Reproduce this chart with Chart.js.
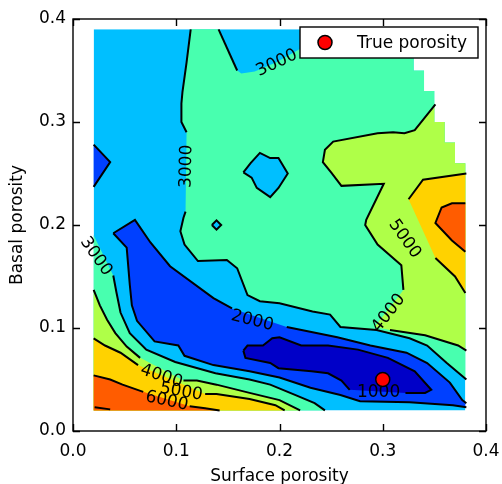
<!DOCTYPE html>
<html>
<head>
<meta charset="utf-8">
<script src="https://cdn.jsdelivr.net/npm/chart.js@4.4.1/dist/chart.umd.min.js"></script>
<style>
  html, body { margin: 0; padding: 0; background: #fff; }
  #box { width: 502px; height: 484px; }
</style>
</head>
<body>
<div id="box"><canvas id="contourChart" width="502" height="484"></canvas></div>
<script>
// ticks
const xTicks = [0, 0.1, 0.2, 0.3, 0.4];
const yTicks = [0, 0.1, 0.2, 0.3, 0.4];

// filled bands 0-1000 ... 6000-7000 (jet)
const levelColors = ['#0000C8', '#0040FF', '#00BFFF', '#48FFAF', '#AFFF48', '#FFD200', '#FF5C00'];

// outline of the valid grid (top right corner is masked)
const domain = [[0.02, 0.02], [0.38, 0.02], [0.38, 0.26], [0.37, 0.26], [0.37, 0.28], [0.36, 0.28],
  [0.36, 0.30], [0.35, 0.30], [0.35, 0.33], [0.34, 0.33], [0.34, 0.35], [0.33, 0.35], [0.33, 0.39], [0.02, 0.39]];

// contour lines (surface porosity, basal porosity), split where labels sit
const c1000Up = [[0.165, 0.078], [0.169, 0.083], [0.184, 0.083], [0.193, 0.090], [0.200, 0.091], [0.221, 0.083],
  [0.247, 0.083], [0.276, 0.079], [0.305, 0.071], [0.331, 0.058], [0.347, 0.040], [0.341, 0.037], [0.322, 0.037]];
const c1000Low = [[0.268, 0.040], [0.260, 0.049], [0.247, 0.056], [0.231, 0.058], [0.199, 0.061], [0.191, 0.066],
  [0.167, 0.071], [0.165, 0.078]];

const c2000Up1 = [[0.039, 0.192], [0.060, 0.205], [0.075, 0.183], [0.094, 0.160], [0.136, 0.129], [0.154, 0.119]];
const c2000Up2 = [[0.207, 0.101], [0.256, 0.091], [0.288, 0.083], [0.323, 0.076], [0.343, 0.066], [0.365, 0.047],
  [0.377, 0.030], [0.381, 0.027]];
const c2000Low = [[0.039, 0.192], [0.052, 0.178], [0.055, 0.142], [0.057, 0.122], [0.062, 0.107], [0.079, 0.087],
  [0.102, 0.083], [0.108, 0.073], [0.136, 0.064], [0.171, 0.058], [0.200, 0.052], [0.230, 0.042], [0.259, 0.035],
  [0.278, 0.029], [0.326, 0.028], [0.368, 0.025], [0.381, 0.023]];
const blobLine = [[0.020, 0.278], [0.036, 0.261], [0.020, 0.237]];

const c3000Top1 = [[0.114, 0.390], [0.110, 0.358], [0.106, 0.329], [0.105, 0.318], [0.105, 0.300], [0.110, 0.290]];
const c3000Top2 = [[0.109, 0.213], [0.107, 0.207], [0.104, 0.194], [0.108, 0.181], [0.121, 0.165], [0.149, 0.166],
  [0.159, 0.158], [0.169, 0.132], [0.181, 0.126], [0.200, 0.124], [0.232, 0.116], [0.249, 0.113], [0.259, 0.101],
  [0.294, 0.098], [0.326, 0.090], [0.343, 0.083], [0.362, 0.066], [0.381, 0.050]];
const c3000Notch = [[0.141, 0.390], [0.159, 0.350]];
const c3000NotchHidden = [[0.163, 0.347], [0.176, 0.349], [0.197, 0.358], [0.218, 0.370], [0.230, 0.378], [0.244, 0.390]];
const c3000Low = [[0.039, 0.151], [0.042, 0.135], [0.046, 0.115], [0.055, 0.095], [0.071, 0.079], [0.099, 0.067],
  [0.138, 0.056], [0.171, 0.050], [0.191, 0.045], [0.215, 0.035], [0.234, 0.027], [0.244, 0.020]];
const island = [[0.165, 0.251], [0.172, 0.260], [0.181, 0.270], [0.191, 0.265], [0.199, 0.265], [0.208, 0.250],
  [0.199, 0.236], [0.191, 0.227], [0.178, 0.236], [0.173, 0.246], [0.165, 0.251]];
const diamond = [[0.1345, 0.200], [0.139, 0.2045], [0.1435, 0.200], [0.139, 0.1955], [0.1345, 0.200]];

const c4000R1 = [[0.351, 0.317], [0.331, 0.292], [0.321, 0.289], [0.310, 0.290], [0.295, 0.289], [0.252, 0.281],
  [0.244, 0.273], [0.242, 0.261], [0.250, 0.251], [0.260, 0.238], [0.301, 0.240], [0.284, 0.205], [0.283, 0.200],
  [0.295, 0.181], [0.318, 0.161], [0.320, 0.137]];
const c4000R2 = [[0.307, 0.098], [0.341, 0.093], [0.373, 0.083], [0.381, 0.078]];
const c4000L1 = [[0.020, 0.137], [0.026, 0.122], [0.033, 0.108], [0.041, 0.095], [0.052, 0.082], [0.065, 0.071]];
const c4000L2 = [[0.107, 0.049], [0.120, 0.049], [0.139, 0.045], [0.171, 0.037], [0.200, 0.030], [0.220, 0.020]];

const c5000R1 = [[0.381, 0.250], [0.339, 0.244], [0.325, 0.225]];
const c5000R2 = [[0.351, 0.168], [0.370, 0.150], [0.380, 0.134]];
const c5000L1 = [[0.020, 0.090], [0.031, 0.083], [0.046, 0.076], [0.063, 0.064]];
const c5000L2 = [[0.128, 0.036], [0.139, 0.036], [0.171, 0.031], [0.196, 0.025], [0.205, 0.020]];

const c6000R = [[0.380, 0.221], [0.367, 0.221], [0.357, 0.217], [0.351, 0.202], [0.367, 0.185], [0.380, 0.174]];
const c6000L1 = [[0.020, 0.054], [0.036, 0.050], [0.048, 0.045], [0.068, 0.038]];
const c6000L2 = [[0.113, 0.024], [0.128, 0.022], [0.142, 0.020]];
const c7000Bit = [[0.021, 0.023], [0.036, 0.021]];

// inline contour labels
const labelText = ['3000', '3000', '3000', '2000', '1000', '4000', '5000', '4000', '5000', '6000'];
const labelX = [0.109, 0.197, 0.023, 0.174, 0.296, 0.305, 0.322, 0.086, 0.105, 0.091];
const labelY = [0.257, 0.358, 0.170, 0.108, 0.038, 0.115, 0.187, 0.054, 0.039, 0.030];
const labelAngle = [-89, -25, 55, 14, 0, -52, 55, 18, 10, 12];

// true value
const trueX = [0.30];
const trueY = [0.05];

const rev = a => a.slice().reverse();
const fillLayers = [
  { color: levelColors[2], polys: [domain] },
  { color: levelColors[3], polys: [
    [[0.114, 0.40]].concat(c3000Top1, c3000Top2, [[0.40, 0.050], [0.40, 0.40], [0.244, 0.40]],
      rev(c3000NotchHidden), rev(c3000Notch), [[0.141, 0.40]]),
    [[0, 0.190], [0.020, 0.190]].concat(c3000Low, [[0.244, 0], [0, 0]])
  ] },
  { color: levelColors[2], polys: [island, diamond] },
  { color: levelColors[4], polys: [
    [[0.40, 0.317]].concat(c4000R1, [[0.292, 0.101]], c4000R2, [[0.40, 0.078]]),
    [[0, 0.137]].concat(c4000L1, c4000L2, [[0.220, 0], [0, 0]])
  ] },
  { color: levelColors[5], polys: [
    [[0.40, 0.250]].concat(c5000R1, c5000R2, [[0.40, 0.134]]),
    [[0, 0.090]].concat(c5000L1, c5000L2, [[0.205, 0], [0, 0]])
  ] },
  { color: levelColors[6], polys: [
    [[0.40, 0.221]].concat(c6000R, [[0.40, 0.174]]),
    [[0, 0.054]].concat(c6000L1, c6000L2, [[0.142, 0], [0, 0]])
  ] },
  { color: levelColors[1], polys: [
    c2000Up1.concat(c2000Up2, [[0.40, 0.027], [0.40, 0.023]], rev(c2000Low)),
    [[0, 0.278]].concat(blobLine, [[0, 0.237]])
  ] },
  { color: levelColors[0], polys: [c1000Up.concat(c1000Low)] }
];

const contourLines = [c1000Up, c1000Low, c2000Up1, c2000Up2, c2000Low, blobLine, c3000Top1, c3000Top2, c3000Notch,
  c3000Low, island, diamond, c4000R1, c4000R2, c4000L1, c4000L2, c5000R1, c5000R2, c5000L1, c5000L2, c6000R,
  c6000L1, c6000L2, c7000Bit];

const FONT = 'DejaVu Sans';

function tracePoly(ctx, poly, xs, ys) {
  poly.forEach(([vx, vy], i) => {
    const px = xs.getPixelForValue(vx);
    const py = ys.getPixelForValue(vy);
    if (i === 0) ctx.moveTo(px, py); else ctx.lineTo(px, py);
  });
  ctx.closePath();
}

const contourFill = {
  id: 'contourFill',
  beforeDatasetsDraw(chart) {
    const { ctx, scales: { x, y } } = chart;
    ctx.save();
    ctx.beginPath();
    tracePoly(ctx, domain, x, y);
    ctx.clip();
    fillLayers.forEach(layer => {
      ctx.fillStyle = layer.color;
      ctx.beginPath();
      layer.polys.forEach(p => tracePoly(ctx, p, x, y));
      ctx.fill();
    });
    ctx.restore();

    ctx.save();
    ctx.fillStyle = '#000';
    ctx.font = `17px "${FONT}"`;
    ctx.textAlign = 'center';
    ctx.textBaseline = 'middle';
    labelText.forEach((t, i) => {
      ctx.save();
      ctx.translate(x.getPixelForValue(labelX[i]), y.getPixelForValue(labelY[i]));
      ctx.rotate(labelAngle[i] * Math.PI / 180);
      ctx.fillText(t, 0, 1);
      ctx.restore();
    });
    ctx.restore();
  }
};

const frameAndLegend = {
  id: 'frameAndLegend',
  afterDraw(chart) {
    const { ctx, chartArea: a, scales: { x, y } } = chart;
    ctx.save();
    ctx.strokeStyle = '#000';
    ctx.lineWidth = 1.4;
    ctx.strokeRect(a.left, a.top, a.right - a.left, a.bottom - a.top);
    ctx.beginPath();
    xTicks.forEach(v => {
      const px = Math.round(x.getPixelForValue(v)) + 0.5;
      ctx.moveTo(px, a.bottom); ctx.lineTo(px, a.bottom - 7);
      ctx.moveTo(px, a.top); ctx.lineTo(px, a.top + 7);
    });
    yTicks.forEach(v => {
      const py = Math.round(y.getPixelForValue(v)) + 0.5;
      ctx.moveTo(a.left, py); ctx.lineTo(a.left + 7, py);
      ctx.moveTo(a.right, py); ctx.lineTo(a.right - 7, py);
    });
    ctx.stroke();

    // legend box, top right inside the axes
    const bw = 178, bh = 31;
    const bx = a.right - 8 - bw, by = a.top + 8;
    ctx.fillStyle = '#fff';
    ctx.fillRect(bx, by, bw, bh);
    ctx.lineWidth = 1.4;
    ctx.strokeRect(bx, by, bw, bh);
    ctx.beginPath();
    ctx.arc(bx + 25, by + bh / 2, 7, 0, Math.PI * 2);
    ctx.fillStyle = '#ff0000';
    ctx.fill();
    ctx.lineWidth = 1.5;
    ctx.stroke();
    ctx.fillStyle = '#000';
    ctx.font = `17px "${FONT}"`;
    ctx.textAlign = 'left';
    ctx.textBaseline = 'middle';
    ctx.fillText('True porosity', bx + 57, by + bh / 2 + 1);
    ctx.restore();
  }
};

const pts = arr => arr.map(([vx, vy]) => ({ x: vx, y: vy }));

const datasets = contourLines.map(seg => ({
  data: pts(seg),
  showLine: true,
  pointRadius: 0,
  borderColor: '#000',
  borderWidth: 2,
  fill: false,
  tension: 0,
  order: 2
}));
datasets.push({
  label: 'True porosity',
  data: trueX.map((vx, i) => ({ x: vx, y: trueY[i] })),
  showLine: false,
  pointRadius: 7,
  pointBackgroundColor: '#ff0000',
  pointBorderColor: '#000',
  pointBorderWidth: 1.5,
  order: 0
});

const axisFont = { family: FONT, size: 17 };

new Chart(document.getElementById('contourChart'), {
  type: 'scatter',
  data: { datasets },
  options: {
    responsive: false,
    animation: false,
    devicePixelRatio: 1,
    events: [],
    layout: { padding: { top: 19, right: 16, left: 0, bottom: 0 } },
    plugins: { legend: { display: false }, tooltip: { enabled: false } },
    scales: {
      x: {
        type: 'linear', min: 0, max: 0.4,
        afterBuildTicks: s => { s.ticks = xTicks.map(v => ({ value: v })); },
        afterFit: s => { s.height = 53; s.paddingLeft = 0; s.paddingRight = 0; },
        ticks: { callback: v => Number(v).toFixed(1), color: '#000', font: axisFont, padding: 10, maxRotation: 0 },
        grid: { display: false, drawTicks: false },
        border: { display: false },
        title: { display: true, text: 'Surface porosity', color: '#000', font: axisFont, padding: { top: 0, bottom: -3 } }
      },
      y: {
        type: 'linear', min: 0, max: 0.4,
        afterBuildTicks: s => { s.ticks = yTicks.map(v => ({ value: v })); },
        afterFit: s => { s.width = 73; s.paddingTop = 0; s.paddingBottom = 0; },
        ticks: { callback: v => Number(v).toFixed(1), color: '#000', font: axisFont, padding: 7 },
        grid: { display: false, drawTicks: false },
        border: { display: false },
        title: { display: true, text: 'Basal porosity', color: '#000', font: axisFont, padding: { top: 7, bottom: 0 } }
      }
    }
  },
  plugins: [contourFill, frameAndLegend]
});
</script>
</body>
</html>
